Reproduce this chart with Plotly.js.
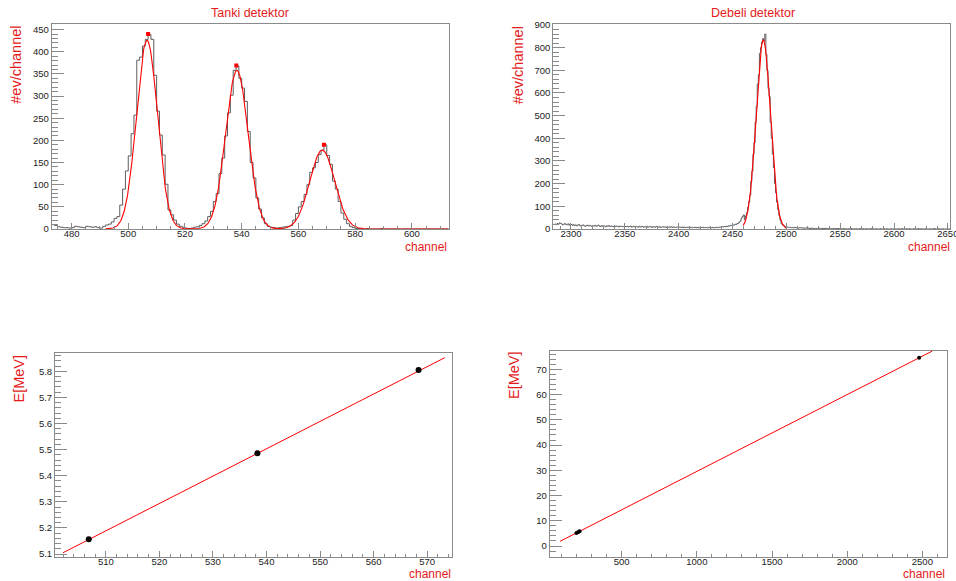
<!DOCTYPE html>
<html>
<head>
<meta charset="utf-8">
<script src="https://cdn.plot.ly/plotly-3.0.1.min.js"></script>
<style>html,body{margin:0;padding:0;background:#fff;}#plot{width:956px;height:581px;}</style>
</head>
<body>
<div id="plot"></div>
<script>
// ---------- Thin detector ("Tanki detektor") histogram, 1 channel bins, first bin starts at 473 ----------
const thinStart = 473;
const thinCounts = [
  10, 8, 5, 4, 3, 3, 2, 3, 6, 5, 4, 3, 6, 5, 4, 5, 3, 2, 6,            // 473-491
  9, 11, 16, 24, 28, 54, 90, 131, 165, 215, 257, 381, 388, 413, 428,   // 492-506
  439, 428, 347, 266, 212, 167, 101, 43, 32, 20, 11, 6, 4, 2,          // 507-520
  1, 2, 4, 5, 8, 12, 18, 28, 40, 62, 80, 125, 160, 210, 262, 302,      // 521-536
  358, 368, 340, 318, 288, 220, 150, 115, 70, 45, 25, 12, 6, 4, 3,     // 537-551
  2, 3, 4, 5, 6, 8, 20, 35, 50, 62, 78, 100, 128, 138, 150, 168,       // 552-567
  178, 190, 166, 146, 108, 90, 62, 36, 22, 12, 6, 3, 1,                // 568-580
  1, 0, 0, 1, 0, 0, 0, 0, 1, 0, 0, 0, 0, 0, 0, 0,                      // 581-596
  0, 0, 0, 0, 0, 0, 0, 0, 0, 0, 0, 0, 0, 0, 0, 0                       // 597-612
];
// three-Gaussian fit of the thin spectrum
const thinFitAmp = [426, 358, 178];
const thinFitMean = [506.6, 538.3, 568.4];
const thinFitSigma = [3.7, 3.95, 4.4];
const thinFitRange = [492, 613];
// peak-search markers
const thinPeakX = [507.0, 538.1, 569.0];
const thinPeakY = [440, 369, 190];

// ---------- Thick detector ("Debeli detektor") histogram ----------
const thickStartLeft = 2284;
const thickBgLeft = [
  20,22,19,24,21,27,25,22,18,21,24,20,19,23,17,21,20,
  16,19,15,18,14,17,20,15,13,16, 18,14,12,15,17,13,16,14,11,15,
  13,16,12,14,17,13,11,15,12,14, 13,10,14,12,15,11,13,12,10,14,
  11,13,12,9,13,11,12,10,12,11,
  10,12,9,11,13,8,10,12,9,11, 10,8,12,9,10,11,8,10,9,12,
  8,10,9,11,7,10,9,8,11,9, 8,10,7,9,10,8,9,7,10,8,
  9,8,10,7,9,8,7,9,8,9,
  8,7,9,6,8,7,6,8,7,5, 8,6,7,6,8,5,7,6,5,7,
  6,8,5,6,7,5,6,8,6,5, 7,6,5,7,8,6,7,9,8,10,
  9,11,10,12,11,14,13,16,15,18,17,21,20,24
];
const thickStartPeak = 2455;
const thickPeak = [
  25,30,36,48,55,62,40,58,72,96,
  120,150,210,255,330,380,470,540,640,680,
  775,800,825,840,830,860,770,700,620,585,
  470,400,330,270,200,160,118,85,60,40,
  25,18,16,12,10,9
];
const thickStartRight = 2501;
const thickBgRight = [
  8,7,8,6,7,5,6,7,5,6,4,5,6,4,5,3,4,5,3,4,
  3,2,4,3,2,3,1,3,2,4,2,1,3,2,2,3,1,2,3,1,2,2,1,3,1,2,1,2,1,2,
  1,0,2,0,1,0,0,1,0,2,0,0,1,0,1,0,0,2,0,0,1,0,0,1,0,0,0,2,0,1,
  0,0,1,0,0,0,1,0,0,2,0,0,1,0,0,0,1,0,0,1,0,0,0,1,0,0,2,0,0,0,
  1,0,0,1,0,0,0,1,0,0,0,2,0,0,1,0,0,0,1,0,0,0,1,0,0,0,2,0,0,0,
  1,0,0,0,1,0,0,0,1,0,0
];
const thickFitAmp = 834, thickFitMean = 2478.6, thickFitSigma = 6.6;
const thickFitRange = [2460, 2500];

// ---------- Calibrations ----------
const calibEnergy = [5.157, 5.486, 5.805];
const thinCalibCh = [506.8, 538.3, 568.4];
const thinCalibFit = {intercept: -0.1545, slope: 0.010477, range: [502, 573.3]};
const thickCalibCh = [198.3, 209.1, 219.6, 2478.6];
const thickCalibE = [5.157, 5.486, 5.805, 74.6];
const thickCalibFit = {intercept: -0.88, slope: 0.030448, range: [90, 2566]};

// ---------- helpers ----------
function histXY(start, counts) {
  const x = [], y = [];
  counts.forEach((v, i) => { x.push(start + i); y.push(v); });
  x.push(start + counts.length); y.push(counts[counts.length - 1]);
  return {x, y};
}
function gaussSum(amps, means, sigmas, range, step) {
  const x = [], y = [];
  for (let t = range[0]; t <= range[1] + 1e-9; t += step) {
    let s = 0;
    for (let k = 0; k < amps.length; k++) s += amps[k] * Math.exp(-0.5 * Math.pow((t - means[k]) / sigmas[k], 2));
    x.push(t); y.push(s);
  }
  return {x, y};
}
function lineXY(fit) {
  return {x: fit.range.slice(), y: fit.range.map(c => fit.intercept + fit.slope * c)};
}

const thinH = histXY(thinStart, thinCounts);
const thickA = histXY(thickStartLeft, thickBgLeft);
const thickB = histXY(thickStartPeak, thickPeak);
const thickC = histXY(thickStartRight, thickBgRight);
const thickH = {x: thickA.x.concat(thickB.x, thickC.x), y: thickA.y.concat(thickB.y, thickC.y)};
const thinFit = gaussSum(thinFitAmp, thinFitMean, thinFitSigma, thinFitRange, 0.2);
const thickFit = gaussSum([thickFitAmp], [thickFitMean], [thickFitSigma], thickFitRange, 0.2);
const thinLine = lineXY(thinCalibFit);
const thickLine = lineXY(thickCalibFit);

const histColor = '#5e5e5e', fitColor = '#ff0000', red = '#e3191b';

const traces = [
  {x: thinH.x, y: thinH.y, xaxis: 'x', yaxis: 'y', mode: 'lines', line: {shape: 'hv', color: histColor, width: 1}},
  {x: thinFit.x, y: thinFit.y, xaxis: 'x', yaxis: 'y', mode: 'lines', line: {color: fitColor, width: 1.1}},
  {x: thinPeakX, y: thinPeakY, xaxis: 'x', yaxis: 'y', mode: 'markers', marker: {symbol: 'square', size: 4, color: fitColor}},
  {x: thickH.x, y: thickH.y, xaxis: 'x2', yaxis: 'y2', mode: 'lines', line: {shape: 'hv', color: histColor, width: 1}},
  {x: thickFit.x, y: thickFit.y, xaxis: 'x2', yaxis: 'y2', mode: 'lines', line: {color: fitColor, width: 1.1}},
  {x: thinLine.x, y: thinLine.y, xaxis: 'x3', yaxis: 'y3', mode: 'lines', line: {color: fitColor, width: 1}},
  {x: thinCalibCh, y: calibEnergy, xaxis: 'x3', yaxis: 'y3', mode: 'markers', marker: {symbol: 'circle', size: 6, color: '#000'}},
  {x: thickLine.x, y: thickLine.y, xaxis: 'x4', yaxis: 'y4', mode: 'lines', line: {color: fitColor, width: 1}},
  {x: thickCalibCh, y: thickCalibE, xaxis: 'x4', yaxis: 'y4', mode: 'markers', marker: {symbol: 'circle', size: 4, color: '#000'}}
];

const W = 956, H = 581;
const fx = p => p / W, fy = p => 1 - p / H;
const tickFont = {family: 'Liberation Sans, Arial, sans-serif', size: 9.5, color: '#222'};
function axis(dom, range, dtick, minor, len, anchor, isY) {
  return {
    domain: dom, range: range, anchor: anchor, autorange: false,
    showline: true, mirror: true, linecolor: '#8a8a8a', linewidth: 1,
    ticks: 'inside', ticklen: len, tickcolor: '#8a8a8a', tickwidth: 1,
    dtick: dtick, tick0: 0, showgrid: false, zeroline: false, tickfont: tickFont,
    ticklabeloverflow: 'allow',
    ticklabelstandoff: isY ? 0 : -4,
    minor: {ticks: 'inside', ticklen: len / 2, dtick: minor, tick0: 0, tickcolor: '#8a8a8a', showgrid: false},
    fixedrange: true
  };
}

const layout = {
  width: W, height: H, margin: {l: 0, r: 0, t: 0, b: 0},
  paper_bgcolor: '#fff', plot_bgcolor: '#fff', showlegend: false,
  xaxis:  axis([fx(51.7), fx(448.7)], [473, 613], 20, 5, 6, 'y'),
  yaxis:  axis([fy(229), fy(24.3)], [0, 462], 50, 10, 12, 'x', true),
  xaxis2: axis([fx(553.3), fx(950)], [2283.6, 2652], 50, 10, 6, 'y2'),
  yaxis2: axis([fy(229), fy(24.3)], [0, 903], 100, 20, 12, 'x2', true),
  xaxis3: axis([fx(55), fx(452.3)], [500.5, 574.7], 10, 2, 6, 'y3'),
  yaxis3: axis([fy(556.7), fy(352.7)], [5.0897, 5.871], 0.1, 0.02, 12, 'x3', true),
  xaxis4: axis([fx(549.7), fx(946.7)], [21, 2662], 500, 100, 6, 'y4'),
  yaxis4: axis([fy(556.7), fy(350.7)], [-4.24, 77.4], 10, 2, 12, 'x4', true),
  annotations: [
    {text: 'Tanki detektor', x: fx(250), y: fy(13)},
    {text: 'Debeli detektor', x: fx(752.5), y: fy(13)},
  ].map(a => Object.assign({xref: 'paper', yref: 'paper', showarrow: false, xanchor: 'center', yanchor: 'middle',
      font: {family: 'Liberation Sans, Arial, sans-serif', size: 12.5, color: red}}, a))
  .concat([
    {text: '#ev/channel', x: fx(15.7), y: fy(24)},
    {text: '#ev/channel', x: fx(518.3), y: fy(24)},
    {text: 'E[MeV]', x: fx(18.8), y: fy(352.7)},
    {text: 'E[MeV]', x: fx(514), y: fy(349)}
  ].map(a => Object.assign({xref: 'paper', yref: 'paper', showarrow: false, xanchor: 'center', yanchor: 'top', textangle: -90,
      font: {family: 'Liberation Sans, Arial, sans-serif', size: 14.5, color: red}}, a)))
  .concat([
    {text: 'channel', x: fx(449), y: fy(246.5)},
    {text: 'channel', x: fx(951.7), y: fy(246.5)},
    {text: 'channel', x: fx(453.3), y: fy(574)},
    {text: 'channel', x: fx(946.7), y: fy(574)}
  ].map(a => Object.assign({xref: 'paper', yref: 'paper', showarrow: false, xanchor: 'right', yanchor: 'middle',
      font: {family: 'Liberation Sans, Arial, sans-serif', size: 12, color: red}}, a)))
};

Plotly.newPlot('plot', traces, layout, {staticPlot: true, displayModeBar: false});
</script>
</body>
</html>
